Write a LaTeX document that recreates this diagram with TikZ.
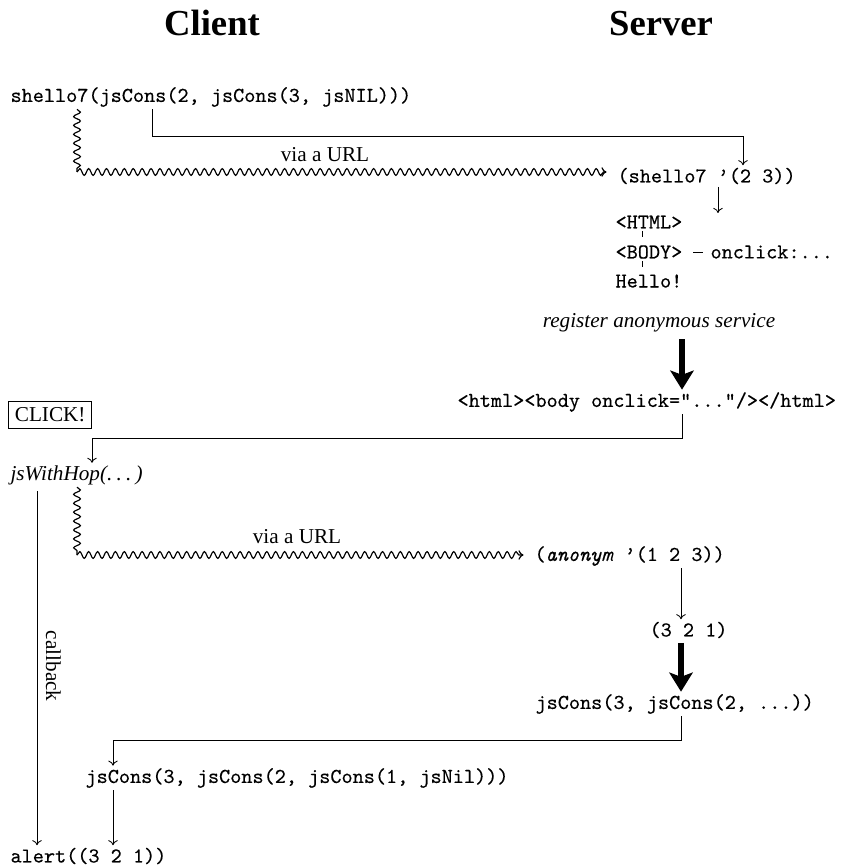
\documentclass[tikz,border=0pt]{standalone}
\usepackage{fontspec}
\setmainfont{Liberation Serif}
\setmonofont{lmmono10-regular.otf}[FakeBold=0.3,
  ItalicFont=lmmono10-italic.otf, ItalicFeatures={FakeBold=0.3}]
\usetikzlibrary{arrows.meta,decorations.pathmorphing}
\begin{document}
\begin{tikzpicture}[x=0.4717pt,y=-0.4717pt,
  code/.style={font=\ttfamily, inner sep=1pt, anchor=west},
  txt/.style={inner sep=1pt},
  link/.style={line width=0.4pt, -{To[length=2.4pt,width=4.5pt]}},
  plain/.style={line width=0.4pt},
  bigarrow/.style={line width=2.8pt, -{Stealth[length=9pt,width=11pt,inset=2pt]}},
  squig/.style={line width=0.55pt, decorate,
    decoration={snake, segment length=4.2pt, amplitude=1.6pt}},
  squigarrow/.style={line width=0.55pt, decorate,
    decoration={snake, segment length=4.2pt, amplitude=1.6pt, post length=5pt},
    -{To[length=2.4pt,width=4.5pt]}},
  tick/.style={line width=0.4pt}
]
\useasboundingbox (0,0) rectangle (846,866);

% column headings
\node[font=\LARGE\bfseries, anchor=base] (client) at (212,36) {Client};
\node[font=\LARGE\bfseries, anchor=base] (server) at (661,36) {Server};

% first request
\node[code] (call) at (8,97) {shello7(jsCons(2, jsCons(3, jsNIL)))};
\node[code] (req) at (615,176) {(shello7 ’(2 3))};
\coordinate (k1) at (152,136);
\coordinate (k2) at (743,136);
\draw[link] (call.south -| k1) -- (k1) -- (k2) -- (req.north -| k2);

\coordinate (w1) at (77,172);
\draw[squig] (call.south -| w1) -- (w1);
\draw[squigarrow, shorten >=4pt] (w1) -- (req.west |- w1);
\node[txt] (url1) at (325,155) {via a URL};

% generated document tree
\node[code] (html) at (613,222) {<HTML>};
\node[code] (body) at (613,252) {<BODY>};
\node[code] (onclk) at (708,252) {onclick:...};
\node[code] (hello) at (613,281) {Hello!};
\coordinate (k3) at (718,0);
\draw[link] (req.south -| k3) -- (html.north -| k3);
\coordinate (t1) at (642,231);
\coordinate (t2) at (642,237);
\coordinate (t3) at (642,261);
\coordinate (t4) at (642,267);
\draw[tick] (t1) -- (t2);
\draw[tick] (t3) -- (t4);
\draw[plain, shorten <=4pt, shorten >=2.5pt] (body.east) -- (onclk.west);

% registration of the anonymous service
\node[txt, font=\itshape] (reg) at (659,323) {register anonymous service};
\node[code] (page) at (455,402) {<html><body onclick="..."/></html>};
\coordinate (k4) at (682,0);
\draw[bigarrow, shorten <=2pt] (reg.south -| k4) -- (page.north -| k4);

% click on the client
\node[draw, line width=0.5pt, inner sep=3pt, anchor=west] (clk) at (8,415) {CLICK!};
\node[txt, font=\itshape, anchor=west] (hop) at (8,475)
  {jsWithHop(.\kern.2em.\kern.2em.\kern.2em)};
\coordinate (k5) at (682,438);
\coordinate (k6) at (92,438);
\draw[link] (page.south -| k5) -- (k5) -- (k6) -- (hop.north -| k6);

% second request
\node[code] (anon) at (532,556) {(\textit{anonym} ’(1 2 3))};
\coordinate (w2) at (77,555);
\draw[squig] (hop.south -| w2) -- (w2);
\draw[squigarrow, shorten >=4pt] (w2) -- (anon.west |- w2);
\node[txt] (url2) at (297,537) {via a URL};

\node[code] (res) at (647,630) {(3 2 1)};
\node[code] (enc) at (533,704) {jsCons(3, jsCons(2, ...))};
\coordinate (k7) at (681,0);
\draw[link] (anon.south -| k7) -- (res.north -| k7);
\draw[bigarrow, shorten <=1pt] (res.south -| k7) -- (enc.north -| k7);

% answer back on the client
\node[code] (full) at (83,778) {jsCons(3, jsCons(2, jsCons(1, jsNil)))};
\node[code] (alert) at (8,856) {alert((3 2 1))};
\coordinate (k8) at (681,740);
\coordinate (k9) at (113,740);
\draw[link] (enc.south -| k8) -- (k8) -- (k9) -- (full.north -| k9);
\draw[link] (full.south -| k9) -- (alert.north -| k9);

\coordinate (k10) at (37,0);
\draw[link, shorten <=2pt] (hop.south -| k10) -- (alert.north -| k10)
  node[midway, rotate=-90, anchor=south, inner sep=4pt] (cb) {callback};
\end{tikzpicture}
\end{document}
